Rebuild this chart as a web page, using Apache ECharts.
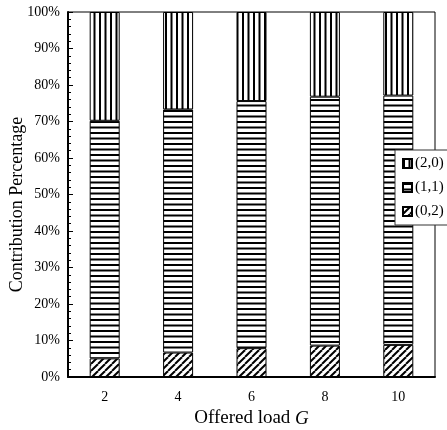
<!DOCTYPE html>
<html><head><meta charset="utf-8">
<script src="https://cdn.jsdelivr.net/npm/echarts@6/dist/echarts.min.js"></script>
<style>html,body{margin:0;padding:0;background:#fff}#c{width:447px;height:430px}</style>
</head><body><div id="c"></div>
<script>
var categories = ['2', '4', '6', '8', '10'];
var s02 = [5.1, 6.7, 7.9, 8.6, 8.8];
var s11 = [65.1, 66.6, 67.7, 68.2, 68.3];
var s20 = [29.8, 26.7, 24.4, 23.2, 22.9];
var yTicks = [0, 10, 20, 30, 40, 50, 60, 70, 80, 90, 100];

function makePattern(kind) {
  var c = document.createElement('canvas');
  var ctx;
  if (kind === 'v') {
    c.width = 11; c.height = 4; ctx = c.getContext('2d');
    ctx.fillStyle = '#fff'; ctx.fillRect(0, 0, 11, 4);
    ctx.fillStyle = '#000'; ctx.fillRect(0, 0, 2, 4); ctx.fillRect(5.5, 0, 2, 4);
  } else if (kind === 'h') {
    c.width = 4; c.height = 11; ctx = c.getContext('2d');
    ctx.fillStyle = '#fff'; ctx.fillRect(0, 0, 4, 11);
    ctx.fillStyle = '#000'; ctx.fillRect(0, 0, 4, 2); ctx.fillRect(0, 5.5, 4, 2);
  } else {
    c.width = 7; c.height = 7; ctx = c.getContext('2d');
    ctx.fillStyle = '#fff'; ctx.fillRect(0, 0, 7, 7);
    ctx.strokeStyle = '#000'; ctx.lineWidth = 2;
    [-7, 0, 7].forEach(function (o) {
      ctx.beginPath(); ctx.moveTo(o, 7); ctx.lineTo(o + 7, 0); ctx.stroke();
    });
  }
  return { image: c, repeat: 'repeat' };
}

var font = '"Liberation Serif","Times New Roman",serif';
var chart = echarts.init(document.getElementById('c'));
function series(name, data, kind) {
  return {
    name: name, type: 'bar', stack: 'a', data: data, barWidth: 30,
    itemStyle: { color: makePattern(kind), borderColor: '#000', borderWidth: 1 }
  };
}
chart.setOption({
  animation: false,
  backgroundColor: '#fff',
  grid: { left: 68, right: 12, top: 12, bottom: 53, show: true, borderColor: '#000', borderWidth: 1,
    containLabel: false, outerBoundsMode: 'none' },
  legend: {
    orient: 'vertical', left: 395, top: 150,
    data: ['(2,0)', '(1,1)', '(0,2)'],
    backgroundColor: '#fff', borderColor: '#333', borderWidth: 1,
    padding: [6, 6, 6, 7], itemGap: 9, itemWidth: 9, itemHeight: 9,
    icon: 'rect',
    textStyle: { fontFamily: font, fontSize: 15, color: '#000', padding: [0, 0, 0, -2] }
  },
  xAxis: {
    type: 'category', data: categories,
    name: '{n|Offered load }{g|G}', nameLocation: 'middle', nameGap: 32, nameMoveOverlap: false,
    nameTextStyle: { rich: { n: { fontFamily: font, fontSize: 19, color: '#000' }, g: { fontFamily: font, fontSize: 19, fontStyle: 'italic', color: '#000' } } },
    axisLine: { lineStyle: { color: '#000', width: 2 } },
    axisTick: { inside: true, length: 4, lineStyle: { color: '#000' } },
    axisLabel: { fontFamily: font, fontSize: 14, color: '#000', margin: 13 }
  },
  yAxis: {
    type: 'value', min: yTicks[0], max: yTicks[yTicks.length - 1], interval: 10,
    name: 'Contribution Percentage', nameLocation: 'middle', nameGap: 42, nameMoveOverlap: false,
    nameTextStyle: { fontFamily: font, fontSize: 18, color: '#000', padding: [0, 20, 0, 0] },
    axisLine: { show: true, lineStyle: { color: '#000', width: 2 } },
    axisTick: { show: true, inside: true, length: 5, lineStyle: { color: '#000' } },
    minorTick: { show: true, splitNumber: 5, length: 3, lineStyle: { color: '#000' } },
    splitLine: { show: false },
    axisLabel: { fontFamily: font, fontSize: 14, color: '#000', margin: 8, formatter: '{value}%' }
  },
  series: [
    series('(0,2)', s02, 'd'),
    series('(1,1)', s11, 'h'),
    series('(2,0)', s20, 'v')
  ]
});
</script></body></html>
